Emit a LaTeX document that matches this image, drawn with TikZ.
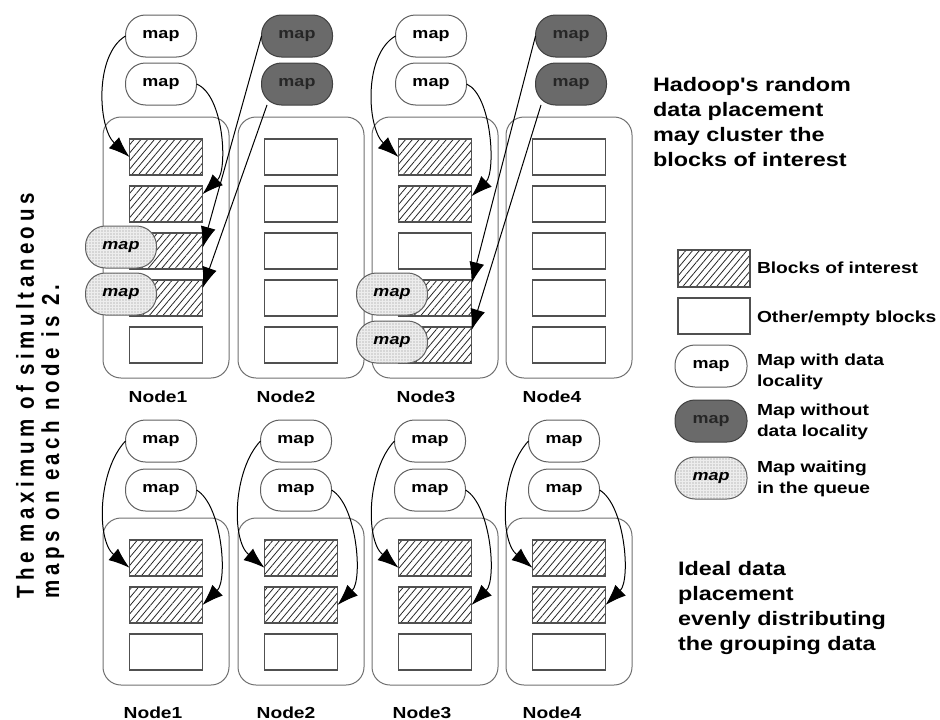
\documentclass[tikz,border=0pt]{standalone}
\usepackage{fontspec}
\usepackage{graphicx}
\setmainfont{Liberation Sans}
\newfontfamily\wf{Liberation Sans}[FakeStretch=1.2]
\newfontfamily\vf{Liberation Sans}[LetterSpace=22]
\usetikzlibrary{patterns.meta,arrows.meta,calc}
\definecolor{contc}{HTML}{707070}
\definecolor{blkc}{HTML}{505050}
\definecolor{edgec}{HTML}{606060}
\definecolor{darkc}{HTML}{6A6A6A}
\tikzset{
 every node/.style={inner sep=0pt, outer sep=0pt},
 cont/.style={draw=contc, line width=1pt, rounded corners=18pt, minimum width=126pt},
 blk/.style={draw=blkc, line width=1.1pt, minimum width=73pt, minimum height=36pt},
 hat/.style={blk, pattern={Lines[angle=50,distance=5.2pt,line width=0.8pt]}, pattern color=black!85},
 mapbase/.style={line width=1pt, rounded corners=20pt, minimum width=71pt, minimum height=42pt, font=\wf\bfseries\fontsize{15}{18}\selectfont},
 mapw/.style={mapbase, draw=edgec, fill=white},
 mapd/.style={mapbase, draw=black!75, fill=darkc, text=black!85},
 mapq/.style={mapbase, draw=edgec, preaction={fill=black!7}, pattern={Dots[distance=3pt,radius=0.55pt]}, pattern color=black!45, font=\wf\bfseries\itshape\fontsize{15}{18}\selectfont},
 arr/.style={-{Latex[length=21pt,width=15pt]}, line width=1pt},
 lbl/.style={font=\wf\bfseries\fontsize{16}{19}\selectfont, anchor=base},
 head/.style={font=\wf\bfseries\fontsize{19.5}{25}\selectfont, align=left, anchor=north west},
 leg/.style={font=\wf\bfseries\fontsize{16}{21}\selectfont, align=left},
 vtext/.style={rotate=90, anchor=base west, font=\vf\bfseries\fontsize{20.5}{24}\selectfont},
}
\begin{document}
\begin{tikzpicture}[x=1pt,y=-1pt]
\useasboundingbox (0,0) rectangle (940,720);

% ---------- top row ----------
\foreach \i/\c in {1/166,2/301,3/435,4/569}{
  \node[cont, minimum height=261pt] (tc\i) at (\c,247.5) {};
}
% blocks top
\node[hat] (b11) at (166,157) {};
\node[hat] (b12) at (166,204) {};
\node[hat] (b13) at (166,251) {};
\node[hat] (b14) at (166,298) {};
\node[blk] (b15) at (166,345) {};
\foreach \r/\y in {1/157,2/204,3/251,4/298,5/345}{
  \node[blk] (b2\r) at (301,\y) {};
  \node[blk] (b4\r) at (569,\y) {};
}
\node[hat] (b31) at (435,157) {};
\node[hat] (b32) at (435,204) {};
\node[blk] (b33) at (435,251) {};
\node[hat] (b34) at (435,298) {};
\node[hat] (b35) at (435,345) {};

% waiting maps
\node[mapq] (q11) at (121,247) {map};
\node[mapq] (q12) at (121,294) {map};
\node[mapq] (q31) at (392,294) {map};
\node[mapq] (q32) at (392,342) {map};

% maps top
\node[mapw] (m11) at (161,36) {map};
\node[mapw] (m12) at (161,84) {map};
\node[mapd] (d21) at (297,36) {map};
\node[mapd] (d22) at (297,84) {map};
\node[mapw] (m31) at (431,36) {map};
\node[mapw] (m32) at (431,84) {map};
\node[mapd] (d41) at (571,36) {map};
\node[mapd] (d42) at (571,84) {map};

% arrows top
\draw[arr] (m11.west) .. controls (94,55) and (98,128) .. (b11.west);
\draw[arr] (m12.east) .. controls (224,95) and (228,170) .. (b12.15);
\draw[arr] (d21.west) -- (b13.5);
\draw[arr] (d22.215) -- (b14.15);
\draw[arr] (m31.west) .. controls (363,55) and (367,128) .. (b31.west);
\draw[arr] (m32.east) .. controls (492,95) and (496,172) .. (b32.12);
\draw[arr] (d41.west) -- (b34.22);
\draw[arr] (d42.215) -- (b35.22);

% labels top
\node[lbl] (tl1) at (158,402) {Node1};
\node[lbl] (tl2) at (286,402) {Node2};
\node[lbl] (tl3) at (426,402) {Node3};
\node[lbl] (tl4) at (552,402) {Node4};

% ---------- bottom row ----------
\foreach \i/\c/\lx in {1/166/153,2/301/286,3/435/422,4/569/552}{
  \pgfmathsetmacro\ma{\c-5}
  \pgfmathsetmacro\xa{\c-68}
  \pgfmathsetmacro\xb{\c-70}
  \pgfmathsetmacro\xc{\c+56}
  \pgfmathsetmacro\xd{\c+62}
  \node[cont, minimum height=167pt] (bc\i) at (\c,601.5) {};
  \node[hat] (e\i a) at (\c,558) {};
  \node[hat] (e\i b) at (\c,605) {};
  \node[blk] (e\i c) at (\c,652) {};
  \node[mapw] (p\i a) at (\ma,441) {map};
  \node[mapw] (p\i b) at (\ma,490) {map};
  \draw[arr] (p\i a.west) .. controls (\xa,470) and (\xb,540) .. (e\i a.195);
  \draw[arr] (p\i b.east) .. controls (\xc,505) and (\xd,580) .. (e\i b.east);
  \node[lbl] (bl\i) at (\lx,718) {Node\i};
}

% ---------- right texts ----------
\node[head] (h1) at (653,77.5) {Hadoop's random\\data placement\\may cluster the\\blocks of interest};
\node[head] (h2) at (678,561.5) {Ideal data\\placement\\evenly distributing\\the grouping data};

% ---------- legend ----------
\node[hat, minimum width=72pt, minimum height=37pt] (lh) at (714,268.5) {};
\node[blk, minimum width=72pt, minimum height=36pt] (le) at (714,316) {};
\node[mapw, minimum width=72pt] (lw) at (711,366) {map};
\node[mapd, minimum width=72pt] (ld) at (711,421) {map};
\node[mapq, minimum width=72pt] (lq) at (711,478) {map};
\node[leg, anchor=base west] (lt1) at (757,273) {Blocks of interest};
\node[leg, anchor=base west] (lt2) at (757,322) {Other/empty blocks};
\node[leg, anchor=north west] (lt3) at (757,353.5) {Map with data\\locality};
\node[leg, anchor=north west] (lt4) at (757,403.5) {Map without\\data locality};
\node[leg, anchor=north west] (lt5) at (757,460.5) {Map waiting\\in the queue};

% ---------- vertical text ----------
\node[vtext] (v1) at (34,598) {\scalebox{1}[1.2]{The maximum of simultaneous}};
\node[vtext] (v2) at (59,598) {\scalebox{1}[1.2]{maps on each node is 2.}};
\end{tikzpicture}
\end{document}
